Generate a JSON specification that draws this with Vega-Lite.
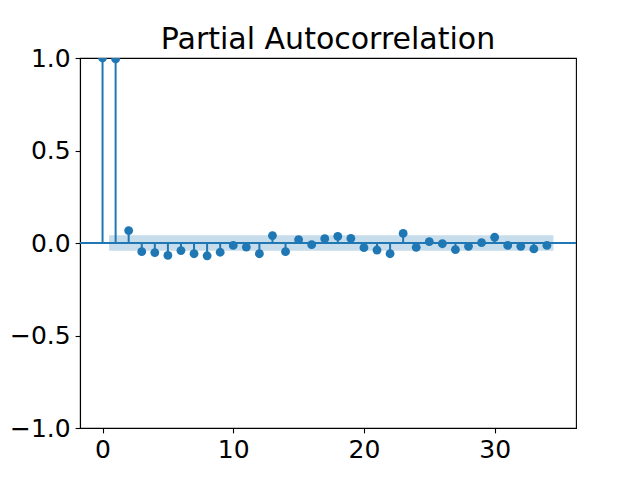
{
  "$schema": "https://vega.github.io/schema/vega-lite/v6.json",
  "width": 496,
  "height": 370,
  "autosize": {"type": "none"},
  "padding": {"left": 80, "top": 58, "right": 64, "bottom": 52},
  "background": "white",
  "title": {
    "text": "Partial Autocorrelation",
    "font": "DejaVu Sans",
    "fontSize": 30,
    "fontWeight": "normal",
    "color": "black",
    "anchor": "middle",
    "frame": "group",
    "baseline": "alphabetic",
    "offset": -33
  },
  "datasets": {
    "pacf": [
      {"lag": 0, "value": 1.0},
      {"lag": 1, "value": 0.995},
      {"lag": 2, "value": 0.067},
      {"lag": 3, "value": -0.047},
      {"lag": 4, "value": -0.052},
      {"lag": 5, "value": -0.067},
      {"lag": 6, "value": -0.041},
      {"lag": 7, "value": -0.058},
      {"lag": 8, "value": -0.069},
      {"lag": 9, "value": -0.05},
      {"lag": 10, "value": -0.013},
      {"lag": 11, "value": -0.022},
      {"lag": 12, "value": -0.058},
      {"lag": 13, "value": 0.04},
      {"lag": 14, "value": -0.047},
      {"lag": 15, "value": 0.018},
      {"lag": 16, "value": -0.009},
      {"lag": 17, "value": 0.023},
      {"lag": 18, "value": 0.036},
      {"lag": 19, "value": 0.025},
      {"lag": 20, "value": -0.025},
      {"lag": 21, "value": -0.038},
      {"lag": 22, "value": -0.058},
      {"lag": 23, "value": 0.052},
      {"lag": 24, "value": -0.023},
      {"lag": 25, "value": 0.007},
      {"lag": 26, "value": -0.004},
      {"lag": 27, "value": -0.036},
      {"lag": 28, "value": -0.018},
      {"lag": 29, "value": 0.002},
      {"lag": 30, "value": 0.031},
      {"lag": 31, "value": -0.013},
      {"lag": 32, "value": -0.018},
      {"lag": 33, "value": -0.032},
      {"lag": 34, "value": -0.013}
    ],
    "band": [
      {"start": 0.5, "end": 34.5, "lo": -0.042, "hi": 0.042}
    ]
  },
  "layer": [
    {
      "data": {"name": "band"},
      "mark": {"type": "rect", "color": "#1f77b4", "opacity": 0.25},
      "encoding": {
        "x": {"field": "start", "type": "quantitative"},
        "x2": {"field": "end"},
        "y": {"field": "lo", "type": "quantitative"},
        "y2": {"field": "hi"}
      }
    },
    {
      "data": {"name": "pacf"},
      "mark": {"type": "rule", "color": "#1f77b4", "strokeWidth": 2},
      "encoding": {
        "x": {"field": "lag", "type": "quantitative"},
        "y": {"field": "value", "type": "quantitative"},
        "y2": {"datum": 0}
      }
    },
    {
      "data": {"values": [{"zero": 0}]},
      "mark": {"type": "rule", "color": "#1f77b4", "strokeWidth": 2},
      "encoding": {
        "y": {"field": "zero", "type": "quantitative"}
      }
    },
    {
      "data": {"name": "pacf"},
      "mark": {"type": "point", "shape": "circle", "filled": true, "color": "#1f77b4", "opacity": 1, "size": 78, "clip": true},
      "encoding": {
        "x": {
          "field": "lag",
          "type": "quantitative",
          "scale": {"domain": [-1.725, 36.225], "nice": false, "zero": false},
          "axis": {"values": [0, 10, 20, 30], "format": "d", "title": null}
        },
        "y": {
          "field": "value",
          "type": "quantitative",
          "scale": {"domain": [-1, 1], "nice": false},
          "axis": {"values": [-1, -0.5, 0, 0.5, 1], "format": ".1f", "title": null}
        }
      }
    }
  ],
  "resolve": {"scale": {"x": "shared", "y": "shared"}},
  "config": {
    "view": {"stroke": "black", "strokeWidth": 1.1},
    "axis": {
      "grid": false,
      "domainColor": "black",
      "domainWidth": 1.1,
      "tickColor": "black",
      "tickSize": 4.9,
      "tickWidth": 1.1,
      "labelPadding": 4.9,
      "labelFont": "DejaVu Sans",
      "labelFontSize": 25,
      "labelColor": "black",
      "labelFlush": false,
      "labelOverlap": false
    }
  }
}
